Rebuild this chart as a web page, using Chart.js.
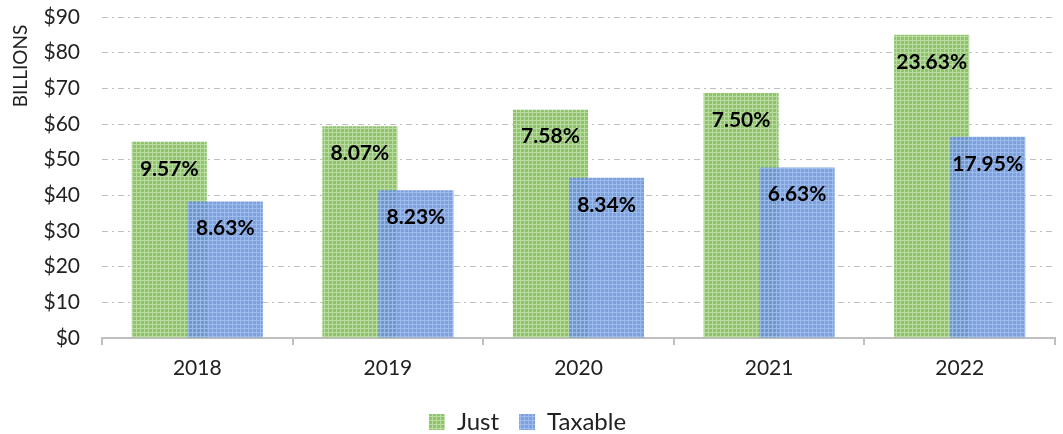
<!DOCTYPE html>
<html>
<head>
<meta charset="utf-8">
<script src="https://cdn.jsdelivr.net/npm/chart.js@4/dist/chart.umd.min.js"></script>
<style>
	html, body { margin: 0; padding: 0; background: #fff; overflow: hidden; }
	#wrap { width: 1063px; height: 434px; overflow: hidden; }
</style>
</head>
<body>
<div id="wrap"><canvas id="chart" width="1063" height="444"></canvas></div>
<script>
const years = ["2018", "2019", "2020", "2021", "2022"];
const justValues = [55.0, 59.4, 64.0, 68.7, 85.0];
const taxableValues = [38.3, 41.4, 44.9, 47.8, 56.4];
const justGrowth = ["9.57%", "8.07%", "7.58%", "7.50%", "23.63%"];
const taxableGrowth = ["8.63%", "8.23%", "8.34%", "6.63%", "17.95%"];
const growthLabels = [justGrowth, taxableGrowth];

const FONT = "Lato, 'Open Sans', sans-serif";

// small grid texture like the office "pattern fill"
const pattern = function (base, light) {
	const c = document.createElement("canvas");
	c.width = 4;
	c.height = 4;
	const g = c.getContext("2d");
	g.fillStyle = base;
	g.fillRect(0, 0, 4, 4);
	g.fillStyle = light;
	g.fillRect(0, 0, 4, 1);
	g.fillRect(0, 0, 1, 4);
	return g.createPattern(c, "repeat");
};

const greenFill = pattern("#8ec46a", "#badca3");
const blueFill = pattern("rgba(104,144,216,0.86)", "rgba(162,191,238,0.86)");

// draw Taxable over Just, then the percentage labels and the axis title
const barExtras = {
	id: "barExtras",
	beforeDatasetDraw(chart, args) {
		if (args.index === 1 && !chart.$lateDraw) return false;
	},
	afterDatasetsDraw(chart) {
		const ctx = chart.ctx;
		chart.$lateDraw = true;
		chart.getDatasetMeta(1).controller.draw();
		chart.$lateDraw = false;

		ctx.save();
		ctx.font = "bold 21px " + FONT;
		ctx.fillStyle = "#000";
		ctx.textAlign = "center";
		ctx.textBaseline = "middle";
		[0, 1].forEach((d) => {
			chart.getDatasetMeta(d).data.forEach((bar, i) => {
				ctx.fillText(growthLabels[d][i], bar.x, bar.y + 27);
			});
		});
		ctx.restore();
	},
	afterDraw(chart) {
		const ctx = chart.ctx;
		ctx.save();
		ctx.translate(21, 66);
		ctx.rotate(-Math.PI / 2);
		ctx.font = "19px " + FONT;
		ctx.fillStyle = "#222";
		ctx.textAlign = "center";
		ctx.textBaseline = "middle";
		ctx.fillText("BILLIONS", 0, 0);
		ctx.restore();
	},
};

const data = {
	labels: years,
	datasets: [
		{
			label: "Just",
			data: justValues,
			backgroundColor: greenFill,
			borderWidth: 0,
		},
		{
			label: "Taxable",
			data: taxableValues,
			backgroundColor: blueFill,
			borderWidth: 0,
		},
	],
};

const config = {
	type: "bar",
	data: data,
	options: {
		responsive: false,
		animation: false,
		categoryPercentage: 0.588,
		barPercentage: 1.34,
		layout: { padding: { top: 17, right: 8, left: 0, bottom: 0 } },
		scales: {
			x: {
				grid: {
					drawOnChartArea: false,
					color: "#bfbfbf",
					lineWidth: 2,
					tickLength: 7,
				},
				border: { display: true, color: "#bfbfbf", width: 2 },
				ticks: {
					color: "#222",
					font: { family: FONT, size: 21 },
					padding: 11,
				},
				afterFit: (s) => {
					s.height = 52;
				},
			},
			y: {
				min: 0,
				max: 90,
				ticks: {
					stepSize: 10,
					color: "#222",
					font: { family: FONT, size: 21 },
					padding: 22,
					callback: (v) => "$" + v,
				},
				grid: {
					color: "#bfbfbf",
					lineWidth: 1,
					drawTicks: false,
				},
				border: { display: false, dash: [6, 4, 2, 4] },
				afterFit: (s) => {
					s.width = 102;
					s.paddingTop = 0;
					s.paddingBottom = 0;
				},
			},
		},
		plugins: {
			legend: {
				position: "bottom",
				labels: {
					boxWidth: 16,
					boxHeight: 16,
					color: "#222",
					font: { family: FONT, size: 24 },
					padding: 20,
				},
			},
			tooltip: { enabled: false },
		},
	},
	plugins: [barExtras],
};

const myChart = new Chart(document.getElementById("chart").getContext("2d"), config);
</script>
</body>
</html>
